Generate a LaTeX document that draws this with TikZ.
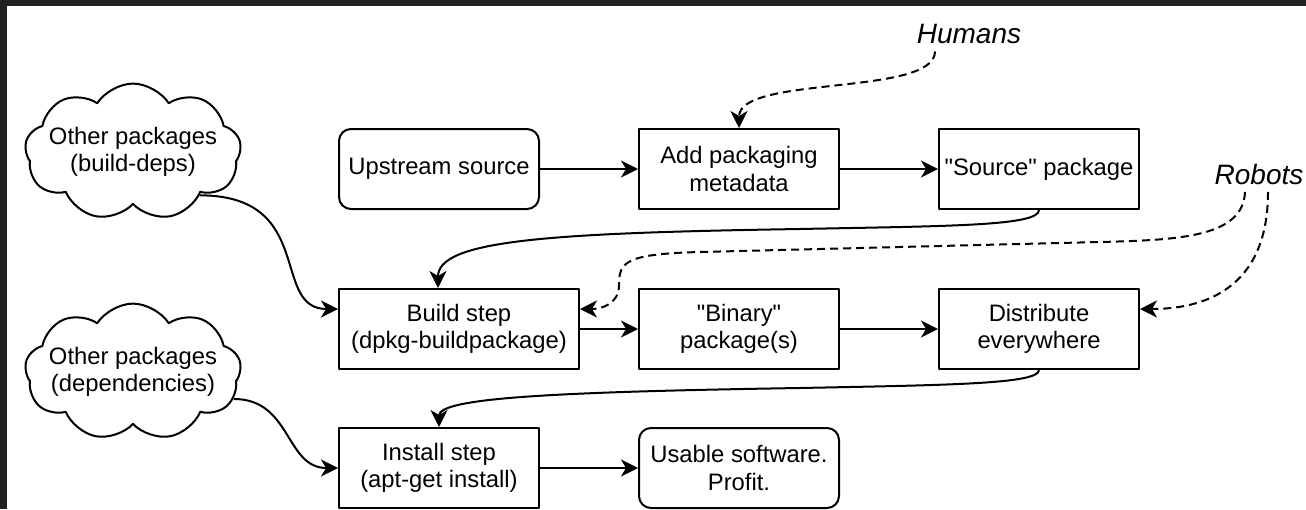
\documentclass[tikz,border=0pt]{standalone}
\usepackage{fontspec}
\setmainfont{Liberation Sans}
\usetikzlibrary{arrows.meta,shapes.symbols}
\definecolor{framegray}{HTML}{222222}

\begin{document}
\begin{tikzpicture}[x=0.5pt,y=-0.5pt,line join=round,line width=1pt,
    >={Stealth[length=8.5pt,width=8.5pt,inset=2.5pt]}]
    \tikzset{every node/.style={font=\fontsize{11.9}{13.6}\selectfont,align=center}}
    \tikzset{box/.style={draw,minimum width=100pt,minimum height=40pt,inner sep=0pt}}
    \tikzset{softbox/.style={box,rounded corners=6pt}}
    \tikzset{puff/.style={draw,cloud,cloud puffs=9,cloud puff arc=115,cloud ignores aspect,
        inner xsep=-5pt,inner ysep=6pt}}
    \tikzset{who/.style={font=\fontsize{14}{16}\selectfont\itshape}}
    \tikzset{hand/.style={->,dash pattern=on 4pt off 2.5pt}}
    \useasboundingbox (0,0) rectangle (1306,509);
    \fill[framegray] (0,0) rectangle (1306,509);
    \fill[white] (7,6) rectangle (1306,509);
    \clip (7,6) rectangle (1306,509);
    % boxes
    \node[softbox] (upstream) at (439,169) {Upstream source};
    \node[box] (meta) at (739,169) {Add packaging\\metadata};
    \node[box] (srcpkg) at (1039,169) {\textquotedbl Source\textquotedbl{} package};
    \node[box,minimum width=120pt] (build) at (459,329) {Build step\\(dpkg-buildpackage)};
    \node[box] (binpkg) at (739,329) {\textquotedbl Binary\textquotedbl\\package(s)};
    \node[box] (dist) at (1039,329) {Distribute\\everywhere};
    \node[box] (install) at (439,468) {Install step\\(apt-get install)};
    \node[softbox] (usable) at (739,468) {Usable software.\\Profit.};
    \node[puff] (bdeps) at (133,152) {Other packages\\(build-deps)};
    \node[puff] (rdeps) at (133,372) {Other packages\\(dependencies)};
    \node[who] (humans) at (969,34) {Humans};
    \node[who] (robots) at (1259,174) {Robots};
    % straight arrows
    \draw[->] (upstream) -- (meta);
    \draw[->] (meta) -- (srcpkg);
    \draw[->] (build) -- (binpkg);
    \draw[->] (binpkg) -- (dist);
    \draw[->] (install) -- (usable);
    % curved arrows
    \draw[->] (srcpkg.south) .. controls +(0,16) and (950,226) .. (800,229)
        .. controls (550,233) and (438,240) .. ([xshift=-10.5pt]build.north);
    \draw[->] (dist.south) .. controls +(0,14) and (950,385) .. (800,388)
        .. controls (550,392) and (439,398) .. (install.north);
    \draw[->] (bdeps.-33) .. controls +(117,0) and (270,309) .. ([yshift=10pt]build.west);
    \draw[->] (rdeps.-15) .. controls +(58,0) and (285,468) .. (install.west);
    % who does what
    \draw[hand] ([xshift=-17pt]humans.south) .. controls +(0,45) and (739,75) .. (meta.north);
    \draw[hand] ([xshift=-7pt]robots.south) .. controls +(-2,45) and (1180,240) .. (1100,242)
        -- (700,252) .. controls (625,254) and (619,262) .. (619,285)
        .. controls (619,305) and (600,309) .. ([yshift=10pt]build.east);
    \draw[hand] ([xshift=4.5pt]robots.south) .. controls +(0,100) and (1200,309) .. ([yshift=10pt]dist.east);
\end{tikzpicture}
\end{document}
